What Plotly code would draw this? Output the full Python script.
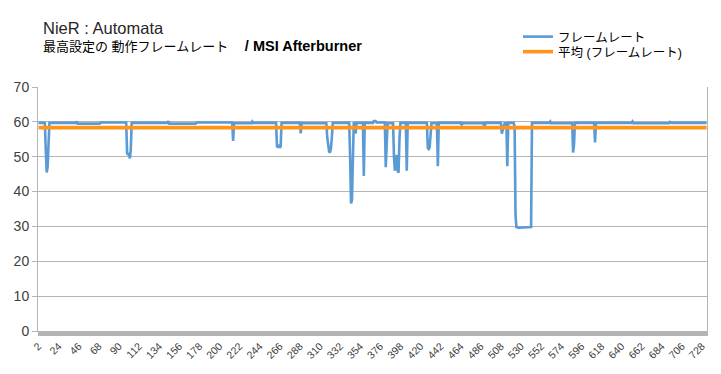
import plotly.graph_objects as go

# Frame-rate readings as (run length, fps) pairs; categories start at 2
FPS_RUNS = [
    (8, 59.7),
    (1, 52.0), (1, 45.5), (1, 47.0), (1, 56.0),
    (30, 59.7), (1, 60.1), (25, 59.5), (29, 59.8),
    (1, 51.0), (1, 50.5), (1, 51.0), (1, 49.5), (1, 52.0),
    (40, 59.7), (1, 60.2), (30, 59.5), (40, 59.8),
    (1, 54.5),
    (20, 59.6), (1, 60.1), (26, 59.7),
    (1, 53.0), (1, 52.7), (1, 53.5), (1, 52.5), (1, 53.0),
    (21, 59.7),
    (1, 56.7),
    (28, 59.6),
    (1, 55.5), (1, 53.0), (1, 51.5), (1, 51.2), (1, 52.3), (1, 55.5),
    (19, 59.7),
    (1, 50.0), (1, 36.6), (1, 37.5), (1, 56.0),
    (2, 59.6),
    (1, 56.6),
    (8, 59.7),
    (1, 44.5),
    (10, 59.7), (3, 60.2), (10, 59.8),
    (1, 47.0), (1, 53.0),
    (7, 59.6),
    (1, 50.0), (1, 46.0), (1, 48.0), (1, 50.5), (1, 46.0), (1, 45.4), (1, 55.0),
    (7, 59.7),
    (1, 46.0),
    (22, 59.7),
    (1, 52.5), (1, 52.2), (1, 52.6), (1, 56.0),
    (7, 59.6),
    (1, 47.3),
    (25, 59.7), (1, 59.0), (24, 59.6),
    (1, 58.0),
    (18, 59.7),
    (1, 56.6), (1, 57.5), (1, 58.0),
    (3, 59.6),
    (1, 47.3),
    (7, 59.7),
    (1, 58.5), (1, 33.0), (1, 29.8), (15, 29.6), (1, 29.8),
    (20, 59.7), (1, 60.1), (24, 59.6),
    (1, 51.2), (1, 53.5),
    (22, 59.7),
    (1, 54.1),
    (40, 59.7), (1, 60.1), (40, 59.6), (1, 60.0), (40, 59.7),
]
FIRST_CATEGORY = 2
X_TICK_LABELS = [str(v) for v in range(2, 729, 22)]
Y_TICKS = [0, 10, 20, 30, 40, 50, 60, 70]

SERIES_NAME = "フレームレート"
AVG_NAME = "平均 (フレームレート)"
TITLE_1 = "NieR : Automata"
TITLE_2 = ("最高設定の 動作フレームレート　 "
           "<span style='font-size:14.5px'><b>/ MSI Afterburner</b></span>")

fps = []
for n, v in FPS_RUNS:
    fps.extend([v] * n)
cats = list(range(FIRST_CATEGORY, FIRST_CATEGORY + len(fps)))
avg = sum(fps) / len(fps)

FONT = "Liberation Sans, Arial, Noto Sans CJK JP, sans-serif"
GRID = "#b4b4b4"
TXT = "#404040"

fig = go.Figure()
fig.add_trace(go.Scatter(x=cats, y=fps, mode="lines", name=SERIES_NAME,
                         line=dict(color="#5b9bd5", width=2.6), legend="legend"))
fig.add_trace(go.Scatter(x=cats, y=[avg] * len(cats), mode="lines", name=AVG_NAME,
                         line=dict(color="#ff9418", width=3.6), legend="legend2"))

# The page body adds an 8px offset, so the figure is sized to fill the rest of the window
OFF = 8
W, H = 721 - OFF, 374 - OFF
ml, mr, mt, mb = 38 - OFF, 14, 87 - OFF, 43
pw, ph = W - ml - mr, H - mt - mb

def px(xp):
    return (xp - OFF - ml) / pw

def py(yp):
    return (H - mb - (yp - OFF)) / ph

legend_common = dict(xanchor="left", yanchor="middle",
                     font=dict(size=12.5, color="#000000"), itemwidth=30,
                     bgcolor="rgba(0,0,0,0)")

fig.update_layout(
    width=W, height=H,
    margin=dict(l=ml, r=mr, t=mt, b=mb, autoexpand=False),
    paper_bgcolor="white", plot_bgcolor="white",
    font=dict(family=FONT, color=TXT),
    showlegend=True,
    legend=dict(x=px(518), y=py(37), **legend_common),
    legend2=dict(x=px(518), y=py(52), **legend_common),
    annotations=[
        dict(text=TITLE_1, xref="paper", yref="paper", x=px(41), y=py(28),
             xanchor="left", yanchor="middle", showarrow=False,
             font=dict(size=16.5, color="#262626")),
        dict(text=TITLE_2, xref="paper", yref="paper", x=px(41), y=py(46),
             xanchor="left", yanchor="middle", showarrow=False,
             font=dict(size=13, color="#000000")),
    ],
    xaxis=dict(range=[FIRST_CATEGORY - 0.5, cats[-1] + 0.5], automargin=False,
               tickmode="array", tickvals=[int(t) for t in X_TICK_LABELS],
               ticktext=X_TICK_LABELS, tickangle=-45,
               tickfont=dict(size=10.5, color=TXT),
               showgrid=False, zeroline=False,
               showline=True, linecolor=GRID, linewidth=1,
               ticks="outside", ticklen=4, tickcolor=GRID,
               minor=dict(tick0=FIRST_CATEGORY - 0.5, dtick=1, ticks="outside",
                          ticklen=4, tickcolor=GRID, showgrid=False)),
    yaxis=dict(range=[0, 70], tickvals=Y_TICKS, automargin=False,
               tickfont=dict(size=14, color=TXT),
               showgrid=True, gridcolor=GRID, gridwidth=1, zeroline=False,
               showline=True, linecolor=GRID, linewidth=1, mirror=True,
               ticks="outside", ticklen=5, tickcolor=GRID),
)

fig.write_html("out.html")
